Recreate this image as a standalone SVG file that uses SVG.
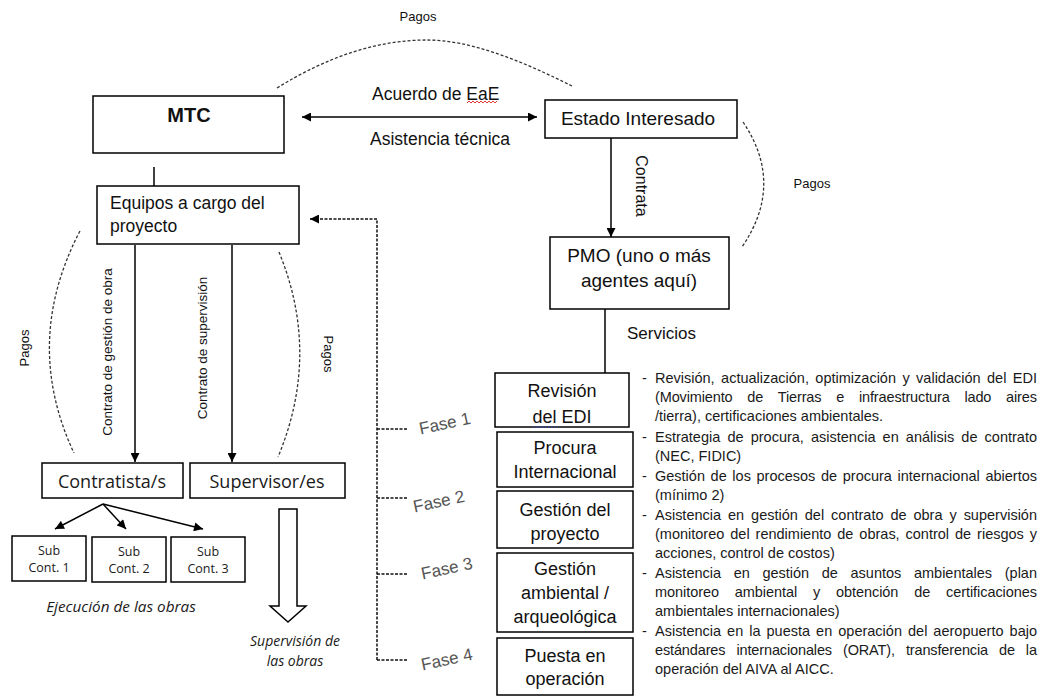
<svg xmlns="http://www.w3.org/2000/svg" width="1045" height="698" viewBox="0 0 1045 698">
  <defs>
    <marker id="arrow" viewBox="0 0 10 10" refX="10" refY="5" markerWidth="10" markerHeight="9" markerUnits="userSpaceOnUse" orient="auto-start-reverse">
      <path d="M0,0 L10,5 L0,10 Z" fill="#000"/>
    </marker>
    <style>
      .box { fill: #fff; stroke: #000; stroke-width: 1.5; }
      .line { fill: none; stroke: #000; stroke-width: 1.5; }
      .dash { fill: none; stroke: #333; stroke-width: 1.3; stroke-dasharray: 3 2; }
      .fase-line { fill: none; stroke: #111; stroke-width: 1.5; stroke-dasharray: 3 1.5; }
      .t { font-family: "Liberation Sans", Arial, sans-serif; fill: #111; }
      .g { font-family: "Open Sans", "DejaVu Sans", sans-serif; fill: #1a1a1a; }
      .c { text-anchor: middle; }
      .small { font-size: 13px; }
      .fase { font-family: "Liberation Sans", Arial, sans-serif; font-size: 17px; fill: #555; text-anchor: middle; }
      .bullet { font-family: "Liberation Sans", Arial, sans-serif; font-size: 14.5px; fill: #1a1a1a; }
    </style>
  </defs>

  <rect width="1045" height="698" fill="#fff"/>

  <!-- connectors -->
  <g id="connectors">
    <!-- payments arc MTC / Estado Interesado -->
    <path class="dash" d="M277,88 C330,55 380,40 427,40 C470,40 520,60 572,86"/>
    <text class="t c small" x="418" y="21">Pagos</text>

    <!-- agreement MTC <-> Estado Interesado -->
    <line class="line" x1="302" y1="117" x2="537" y2="117" marker-start="url(#arrow)" marker-end="url(#arrow)"/>
    <text class="t" x="372" y="100" font-size="17.5">Acuerdo de EaE</text>
    <path d="M467,103 l2,-2 l2,2 l2,-2 l2,2 l2,-2 l2,2 l2,-2 l2,2 l2,-2 l2,2 l2,-2 l2,2 l2,-2 l2,2 l2,-2" fill="none" stroke="#e02020" stroke-width="0.9"/>
    <text class="t" x="370" y="145" font-size="17.5">Asistencia técnica</text>

    <!-- Estado Interesado -> PMO -->
    <line class="line" x1="611" y1="138" x2="611" y2="237" marker-end="url(#arrow)"/>
    <text class="t c" font-size="16" transform="translate(636,186) rotate(90)">Contrata</text>
    <path class="dash" d="M743,122 Q785,184 742,247"/>
    <text class="t c small" x="812" y="188">Pagos</text>

    <!-- PMO -> services -->
    <line class="line" x1="605" y1="309" x2="605" y2="373"/>
    <text class="t" x="627" y="339" font-size="17">Servicios</text>

    <!-- MTC -> project teams -->
    <line class="line" x1="154" y1="167" x2="154" y2="186"/>

    <!-- project teams -> contractors / supervisors -->
    <line class="line" x1="135" y1="245" x2="135" y2="462" marker-end="url(#arrow)"/>
    <line class="line" x1="232" y1="245" x2="232" y2="462" marker-end="url(#arrow)"/>
    <text class="t c" font-size="13.5" transform="translate(112,352) rotate(-90)">Contrato de gestión de obra</text>
    <text class="t c" font-size="13.5" transform="translate(207,348) rotate(-90)">Contrato de supervisión</text>
    <path class="dash" d="M80,231 Q22,342 74,453"/>
    <text class="t c small" transform="translate(29,348) rotate(-90)">Pagos</text>
    <path class="dash" d="M279,252 Q321,354 278,457"/>
    <text class="t c small" transform="translate(324,354) rotate(90)">Pagos</text>

    <!-- contractors -> sub-contractors -->
    <line class="line" x1="103" y1="504" x2="55" y2="529" marker-end="url(#arrow)"/>
    <line class="line" x1="103" y1="504" x2="126" y2="529" marker-end="url(#arrow)"/>
    <line class="line" x1="103" y1="504" x2="203" y2="529" marker-end="url(#arrow)"/>

    <!-- supervision block arrow -->
    <path d="M279,509 L297,509 L297,606 L306,606 L288,622 L270,606 L279,606 Z" fill="#fff" stroke="#000" stroke-width="1.5"/>

    <!-- phases feedback to project teams -->
    <path class="fase-line" d="M377,660 L377,219 L319,219"/>
    <line class="line" x1="319" y1="219" x2="310" y2="219" marker-end="url(#arrow)" stroke-width="1"/>
    <path class="fase-line" d="M377,429 H407 M377,498 H407 M377,574 H407 M377,660 H407"/>
    <text class="fase" transform="translate(446,429) rotate(-12)">Fase 1</text>
    <text class="fase" transform="translate(440,507) rotate(-12)">Fase 2</text>
    <text class="fase" transform="translate(448,574) rotate(-12)">Fase 3</text>
    <text class="fase" transform="translate(448,665) rotate(-12)">Fase 4</text>
  </g>

  <!-- nodes -->
  <g id="mtc">
    <rect class="box" x="93" y="96" width="191" height="57"/>
    <text class="t c" x="189" y="122" font-size="20" font-weight="bold">MTC</text>
  </g>

  <g id="estado-interesado">
    <rect class="box" x="545" y="100" width="192" height="38"/>
    <text class="t c" x="638" y="125" font-size="19">Estado Interesado</text>
  </g>

  <g id="pmo">
    <rect class="box" x="550" y="237" width="179" height="72"/>
    <text class="t c" x="639" y="262" font-size="19">PMO (uno o más</text>
    <text class="t c" x="639" y="287" font-size="19">agentes aquí)</text>
  </g>

  <g id="equipos">
    <rect class="box" x="97" y="186" width="202" height="58"/>
    <text class="t" x="110" y="209" font-size="17.5">Equipos a cargo del</text>
    <text class="t" x="110" y="232" font-size="17.5">proyecto</text>
  </g>

  <g id="contratistas">
    <rect class="box" x="42" y="463" width="141" height="35"/>
    <text class="g c" x="112" y="488" font-size="18">Contratista/s</text>
  </g>

  <g id="supervisores">
    <rect class="box" x="190" y="463" width="155" height="35"/>
    <text class="g c" x="267" y="488" font-size="18">Supervisor/es</text>
  </g>

  <g id="sub-1">
    <rect class="box" x="12" y="536" width="74" height="45"/>
    <text class="g c" x="49" y="555" font-size="12.5">Sub</text>
    <text class="g c" x="49" y="572" font-size="12.5">Cont. 1</text>
  </g>

  <g id="sub-2">
    <rect class="box" x="92" y="537" width="74" height="45"/>
    <text class="g c" x="129" y="556" font-size="12.5">Sub</text>
    <text class="g c" x="129" y="573" font-size="12.5">Cont. 2</text>
  </g>

  <g id="sub-3">
    <rect class="box" x="171" y="537" width="74" height="45"/>
    <text class="g c" x="208" y="556" font-size="12.5">Sub</text>
    <text class="g c" x="208" y="573" font-size="12.5">Cont. 3</text>
  </g>

  <g id="ejecucion">
    <text class="g c" x="121" y="612" font-size="15.3" font-style="italic">Ejecución de las obras</text>
  </g>

  <g id="supervision-obras">
    <text class="g c" x="295" y="646" font-size="14" font-style="italic">Supervisión de</text>
    <text class="g c" x="295" y="666" font-size="14" font-style="italic">las obras</text>
  </g>

  <g id="revision-edi">
    <rect class="box" x="495" y="373" width="134" height="54"/>
    <text class="t c" x="562" y="397" font-size="18">Revisión</text>
    <text class="t c" x="562" y="423" font-size="18">del EDI</text>
    <path d="M533,427 H558" fill="none" stroke="#3050d0" stroke-width="1" stroke-dasharray="1.5 1.5"/>
  </g>

  <g id="procura">
    <rect class="box" x="497" y="432" width="136" height="55"/>
    <text class="t c" x="565" y="454" font-size="18">Procura</text>
    <text class="t c" x="565" y="478" font-size="18">Internacional</text>
  </g>

  <g id="gestion-proyecto">
    <rect class="box" x="497" y="491" width="136" height="57"/>
    <text class="t c" x="565" y="516" font-size="18">Gestión del</text>
    <text class="t c" x="565" y="540" font-size="18">proyecto</text>
  </g>

  <g id="gestion-ambiental">
    <rect class="box" x="497" y="553" width="136" height="79"/>
    <text class="t c" x="565" y="575" font-size="18">Gestión</text>
    <text class="t c" x="565" y="599" font-size="18">ambiental /</text>
    <text class="t c" x="565" y="623" font-size="18">arqueológica</text>
  </g>

  <g id="puesta-operacion">
    <rect class="box" x="497" y="638" width="136" height="57"/>
    <text class="t c" x="565" y="662" font-size="18">Puesta en</text>
    <text class="t c" x="565" y="685" font-size="18">operación</text>
  </g>

  <!-- service details: justified lines use word spacing, then textLength trims the rest -->
  <g id="servicios-detalle">
    <text class="bullet" x="642" y="383">-</text>
    <text class="bullet" x="655" y="383" word-spacing="2.4" textLength="382" lengthAdjust="spacing">Revisión, actualización, optimización y validación del EDI</text>
    <text class="bullet" x="655" y="402" word-spacing="10.9" textLength="382" lengthAdjust="spacing">(Movimiento de Tierras e infraestructura lado aires</text>
    <text class="bullet" x="655" y="421">/tierra), certificaciones ambientales.</text>

    <text class="bullet" x="642" y="442">-</text>
    <text class="bullet" x="655" y="442" word-spacing="3.1" textLength="382" lengthAdjust="spacing">Estrategia de procura, asistencia en análisis de contrato</text>
    <text class="bullet" x="655" y="461">(NEC, FIDIC)</text>

    <text class="bullet" x="642" y="481">-</text>
    <text class="bullet" x="655" y="481" word-spacing="1.6" textLength="382" lengthAdjust="spacing">Gestión de los procesos de procura internacional abiertos</text>
    <text class="bullet" x="655" y="500">(mínimo 2)</text>

    <text class="bullet" x="642" y="520">-</text>
    <text class="bullet" x="655" y="520" word-spacing="2.9" textLength="382" lengthAdjust="spacing">Asistencia en gestión del contrato de obra y supervisión</text>
    <text class="bullet" x="655" y="539" word-spacing="1.9" textLength="382" lengthAdjust="spacing">(monitoreo del rendimiento de obras, control de riesgos y</text>
    <text class="bullet" x="655" y="558">acciones, control de costos)</text>

    <text class="bullet" x="642" y="578">-</text>
    <text class="bullet" x="655" y="578" word-spacing="8.6" textLength="382" lengthAdjust="spacing">Asistencia en gestión de asuntos ambientales (plan</text>
    <text class="bullet" x="655" y="597" word-spacing="11.9" textLength="382" lengthAdjust="spacing">monitoreo ambiental y obtención de certificaciones</text>
    <text class="bullet" x="655" y="616">ambientales internacionales)</text>

    <text class="bullet" x="642" y="636">-</text>
    <text class="bullet" x="655" y="636" word-spacing="2.0" textLength="382" lengthAdjust="spacing">Asistencia en la puesta en operación del aeropuerto bajo</text>
    <text class="bullet" x="655" y="655" word-spacing="7.1" textLength="382" lengthAdjust="spacing">estándares internacionales (ORAT), transferencia de la</text>
    <text class="bullet" x="655" y="674">operación del AIVA al AICC.</text>
  </g>
</svg>
